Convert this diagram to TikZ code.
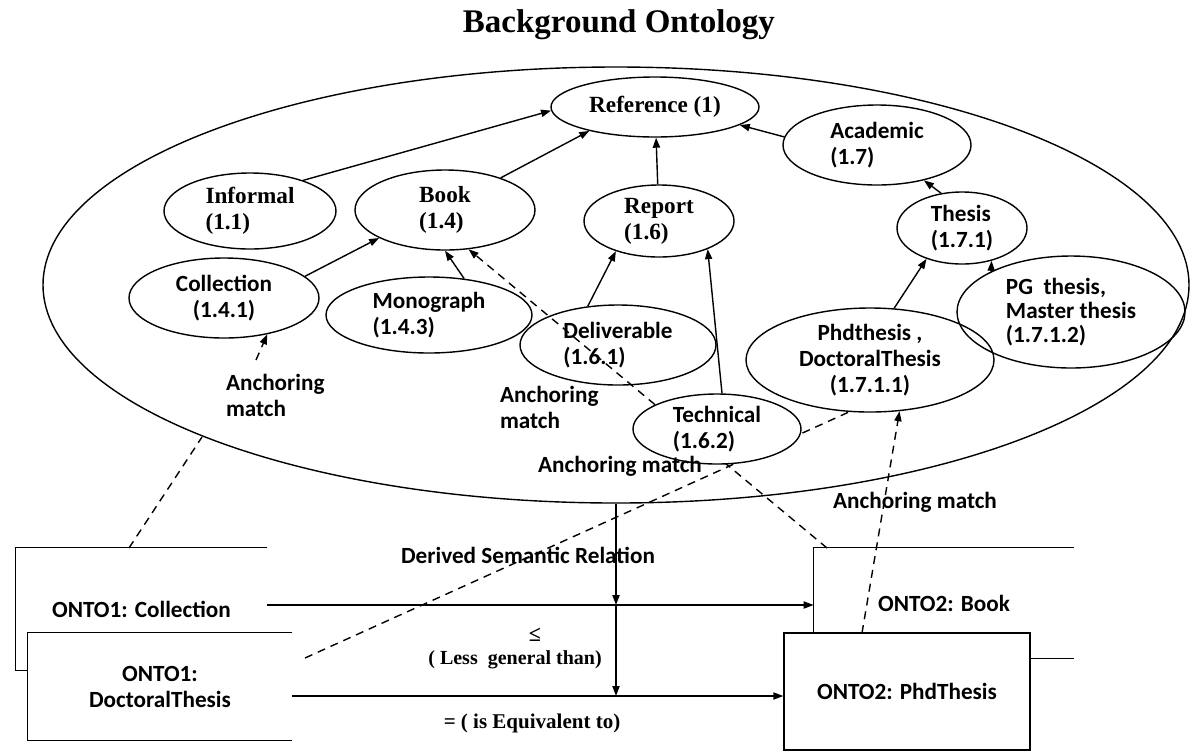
\documentclass[tikz,border=0pt]{standalone}
\usepackage{fontspec}
\setmainfont{Liberation Serif}
\newfontfamily\calib{Carlito}
\usetikzlibrary{shapes.geometric,arrows.meta}
\begin{document}
\begin{tikzpicture}[x=0.5pt,y=-0.5pt,
  lw/.style={line width=0.7pt},
  arr/.style={lw,-{Triangle[length=5pt,width=3.6pt]}},
  dsh/.style={lw,dash pattern=on 4pt off 3pt},
  dsharr/.style={dsh,-{Triangle[length=5pt,width=3.6pt]}},
  ell/.style={draw,lw,ellipse,inner sep=0pt},
  sf/.style={font=\calib\bfseries\fontsize{11.6}{13}\selectfont},
  rm/.style={font=\bfseries\fontsize{11.6}{13}\selectfont},
  box/.style={sf,inner sep=0pt,align=center},
]
\fill[white] (0,0) rectangle (1193,751);
\useasboundingbox (0,0) rectangle (1193,751);

% title and background ontology
\node[font=\bfseries\fontsize{16.5}{19}\selectfont] (title) at (619,25) {Background Ontology};
\node[ell, minimum width=573pt, minimum height=218pt] (bg) at (616,285) {};

% concept ellipses
\node[ell, rm, align=left, minimum width=104pt, minimum height=30pt] (ref) at (655,107) {Reference (1)};
\node[ell, rm, align=left, minimum width=86pt, minimum height=38pt] (inf) at (250,211) {Informal\\(1.1)};
\node[ell, rm, align=left, minimum width=90pt, minimum height=40pt] (book) at (445,210) {Book\\(1.4)};
\node[ell, sf, align=center, minimum width=95pt, minimum height=40pt] (coll) at (224,298) {Collection\\(1.4.1)};
\node[ell, sf, align=left, minimum width=103pt, minimum height=38pt] (mono) at (429,315) {Monograph\\(1.4.3)};
\node[ell, rm, align=left, minimum width=75pt, minimum height=36pt] (rep) at (659,221) {Report\\(1.6)};
\node[ell, sf, align=left, minimum width=98pt, minimum height=40pt] (deliv) at (618,345) {Deliverable\\(1.6.1)};
\node[ell, sf, align=left, minimum width=94pt, minimum height=40pt] (acad) at (877,145) {Academic\\(1.7)};
\node[ell, sf, align=left, minimum width=65pt, minimum height=36pt] (thesis) at (962,228) {Thesis\\(1.7.1)};
\node[ell, sf, align=center, minimum width=124pt, minimum height=52pt] (phd) at (870,360) {Phdthesis ,\\DoctoralThesis\\(1.7.1.1)};
\node[ell, sf, align=left, minimum width=114pt, minimum height=56pt, font=\calib\bfseries\fontsize{11.6}{12}\selectfont] (pg) at (1071,312) {PG\ \ thesis,\\Master thesis\\(1.7.1.2)};

% hierarchy arrows
\draw[arr] (inf.30) -- (ref.182);
\draw[arr] (book.30) -- (ref.200);
\draw[arr] (rep) -- (ref);
\draw[arr] (acad.175) -- (ref.-12);
\draw[arr] (thesis.121) -- (acad.-37);
\draw[arr] (coll.15) -- (book.203);
\draw[arr] (mono.46) -- (book.270);
\draw[arr] (deliv.128) -- (rep.215);
\draw[arr] (phd.65) -- (thesis.221);
\draw[arr] (pg.153) -- (thesis.-48);

% source / target boxes
\node[box, minimum width=125.5pt, minimum height=61pt] (c1) at (141.5,609) {ONTO1: Collection};
\draw[lw] (c1.north east) -- (c1.north west) -- (c1.south west) -- ++(12,0);
\node[box, fill=white, minimum width=132pt, minimum height=53.5pt] (d1) at (160,686.5) {ONTO1:\\DoctoralThesis};
\draw[lw] (d1.north east) -- (d1.north west) -- (d1.south west) -- (d1.south east);
\node[box, minimum width=130pt, minimum height=55pt] (b2) at (944,603) {ONTO2: Book};
\draw[lw] (b2.north east) -- (b2.north west) -- (b2.south west) -- (b2.south east);
\node[box, draw, lw, fill=white, minimum width=123pt, minimum height=58.5pt] (p2) at (907,691.5) {ONTO2: PhdThesis};

% relation arrows
\coordinate (ya) at (0,605);
\coordinate (yb) at (0,696);
\draw[arr] (c1.north east |- ya) -- (b2.west |- ya);
\draw[arr] (d1.east |- yb) -- (p2.west |- yb);
\draw[arr] (bg.south) -- (bg.south |- ya);
\draw[arr] (bg.south |- ya) -- (bg.south |- yb);

% anchoring matches
\coordinate (c1top) at (129,548);
\coordinate (bgp1) at (202,437);
\coordinate (a1) at (256,360);
\coordinate (b2top) at (827,548);
\coordinate (d1p) at (305,658);
\coordinate (p2top) at (862,633);
\draw[dsh] (c1top) -- (bgp1);
\draw[dsharr] (a1) -- (coll.-40);
\draw[dsharr] (b2top) -- (book.-59);
\draw[dsh] (d1p) -- (phd.248);
\draw[dsharr] (p2top) -- (phd.-60);

\node[ell, sf, align=left, fill=white, minimum width=84pt, minimum height=35pt] (tech) at (717,429) {Technical\\(1.6.2)};
\draw[arr] (tech.82) -- (rep.-30);

% labels
\node[sf, align=left, anchor=west] (am1) at (219,395) {Anchoring\\match};
\node[sf, align=left, anchor=west] (am2) at (493,407) {Anchoring\\match};
\node[sf] (am3) at (620,466) {Anchoring match};
\node[sf] (am4) at (915,502) {Anchoring match};
\node[sf] (dsr) at (528,555) {Derived Semantic Relation};
\node[font=\bfseries\fontsize{11}{13}\selectfont] (le) at (535,635) {≤};
\node[font=\bfseries\fontsize{10}{12}\selectfont] (lg) at (515,660) {( Less\ \ general than)};
\node[font=\bfseries\fontsize{10.5}{12}\selectfont] (eq) at (532,723) {= ( is Equivalent to)};
\end{tikzpicture}
\end{document}
